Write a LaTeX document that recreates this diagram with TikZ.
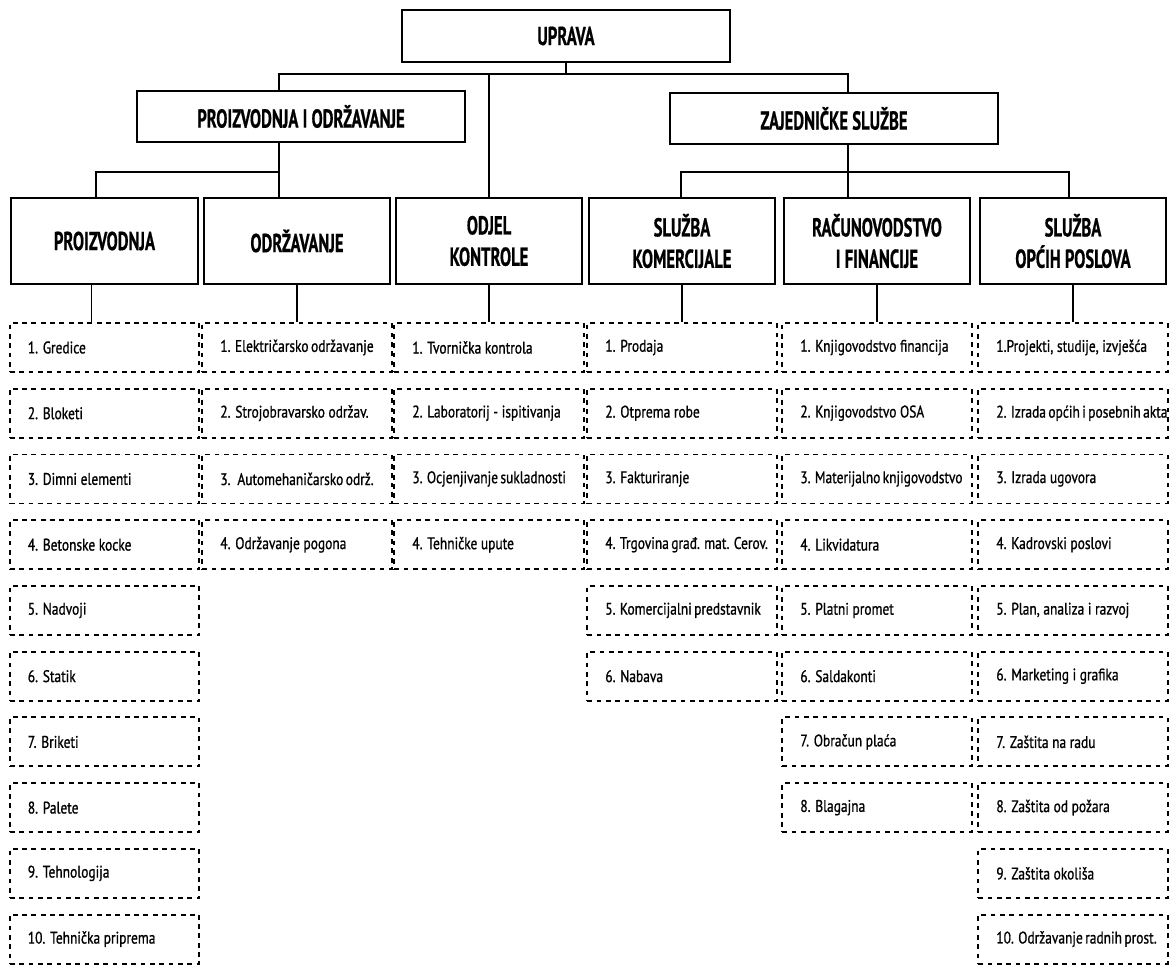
\documentclass[tikz,border=0pt]{standalone}
\usepackage{fontspec}
\setmainfont{PT Sans}
\newfontfamily\headfont{PT Sans}[FakeStretch=0.64, FakeBold=0.6]
\newfontfamily\taskfont{PT Sans}[FakeStretch=0.8, FakeBold=0.9]
\usetikzlibrary{positioning}
\tikzset{%
  % Specifications for style of nodes:
         unit/.style = {rectangle, draw=black, line width=1.4pt,
                        text centered, align=center, inner sep=2pt,
                        font=\headfont\bfseries\fontsize{19.5}{23.5}\selectfont},
      topunit/.style = {unit, minimum width=246pt, minimum height=38.5pt},
      subunit/.style = {unit, minimum width=140pt, minimum height=64.5pt},
      taskbox/.style = {rectangle, draw=black, line width=1.4pt,
                        dash pattern=on 3.6pt off 3.4pt,
                        minimum width=142pt, minimum height=36.75pt,
                        inner xsep=13.5pt,
                        font=\taskfont\fontsize{12.6}{14}\selectfont,
                        execute at begin node={\hbox to 115pt\bgroup},
                        execute at end node={\hfil\egroup}},
}

\begin{document}
\begin{tikzpicture}[x=0.75pt, y=-0.75pt, node distance=49.3pt,
    line width=1.4pt]
\useasboundingbox (0,0) rectangle (1169,967);

\node (UPR)  [topunit] at (566,36)     {UPRAVA};
\node (PIO)  [topunit] at (301,116.5)  {PROIZVODNJA I ODRŽAVANJE};
\node (ZAJ)  [topunit] at (834,118.5)  {ZAJEDNIČKE SLUŽBE};

\node (PRO)  [subunit] at (104.5,241)  {PROIZVODNJA};
\node (ODR)  [subunit] at (297,241)    {ODRŽAVANJE};
\node (ODJ)  [subunit] at (489,241)    {ODJEL\\KONTROLE};
\node (KOM)  [subunit] at (682,241)    {SLUŽBA\\KOMERCIJALE};
\node (RAC)  [subunit] at (877,241)    {RAČUNOVODSTVO\\I FINANCIJE};
\node (OPC)  [subunit] at (1073,241)   {SLUŽBA\\OPĆIH POSLOVA};

% Proizvodnja
\node (P1)   [taskbox] at (104.5,347.5) {1. Gredice};
\node (P2)   [taskbox, below of=P1]     {2. Bloketi};
\node (P3)   [taskbox, below of=P2]     {3. Dimni elementi};
\node (P4)   [taskbox, below of=P3]     {4. Betonske kocke};
\node (P5)   [taskbox, below of=P4]     {5. Nadvoji};
\node (P6)   [taskbox, below of=P5]     {6. Statik};
\node (P7)   [taskbox, below of=P6]     {7. Briketi};
\node (P8)   [taskbox, below of=P7]     {8. Palete};
\node (P9)   [taskbox, below of=P8]     {9. Tehnologija};
\node (P10)  [taskbox, below of=P9]     {10. Tehnička priprema};

% Odrzavanje
\node (O1)   [taskbox] at (297,347.5)   {1. Električarsko održavanje};
\node (O2)   [taskbox, below of=O1]     {2. Strojobravarsko održav.};
\node (O3)   [taskbox, below of=O2]     {3.~ Automehaničarsko održ.};
\node (O4)   [taskbox, below of=O3]     {4. Održavanje pogona};

% Odjel kontrole
\node (K1)   [taskbox] at (489,347.5)   {1. Tvornička kontrola};
\node (K2)   [taskbox, below of=K1]     {2. Laboratorij - ispitivanja};
\node (K3)   [taskbox, below of=K2]     {3. Ocjenjivanje sukladnosti};
\node (K4)   [taskbox, below of=K3]     {4. Tehničke upute};

% Komercijala
\node (S1)   [taskbox] at (682,347.5)   {1. Prodaja};
\node (S2)   [taskbox, below of=S1]     {2. Otprema robe};
\node (S3)   [taskbox, below of=S2]     {3. Fakturiranje};
\node (S4)   [taskbox, below of=S3]     {4. Trgovina građ. mat. Cerov.};
\node (S5)   [taskbox, below of=S4]     {5. Komercijalni predstavnik};
\node (S6)   [taskbox, below of=S5]     {6. Nabava};

% Racunovodstvo
\node (R1)   [taskbox] at (877,347.5)   {1. Knjigovodstvo financija};
\node (R2)   [taskbox, below of=R1]     {2. Knjigovodstvo OSA};
\node (R3)   [taskbox, below of=R2]     {3. Materijalno knjigovodstvo};
\node (R4)   [taskbox, below of=R3]     {4. Likvidatura};
\node (R5)   [taskbox, below of=R4]     {5. Platni promet};
\node (R6)   [taskbox, below of=R5]     {6. Saldakonti};
\node (R7)   [taskbox, below of=R6]     {7. Obračun plaća};
\node (R8)   [taskbox, below of=R7]     {8. Blagajna};

% Opci poslovi
\node (G1)   [taskbox] at (1073,347.5)  {1.Projekti, studije, izvješća};
\node (G2)   [taskbox, below of=G1]     {2. Izrada općih i posebnih akta};
\node (G3)   [taskbox, below of=G2]     {3. Izrada ugovora};
\node (G4)   [taskbox, below of=G3]     {4. Kadrovski poslovi};
\node (G5)   [taskbox, below of=G4]     {5. Plan, analiza i razvoj};
\node (G6)   [taskbox, below of=G5]     {6. Marketing i grafika};
\node (G7)   [taskbox, below of=G6]     {7. Zaštita na radu};
\node (G8)   [taskbox, below of=G7]     {8. Zaštita od požara};
\node (G9)   [taskbox, below of=G8]     {9. Zaštita okoliša};
\node (G10)  [taskbox, below of=G9]     {10. Održavanje radnih prost.};

\coordinate (bl) at (279,74);
\coordinate (br) at (848,74);
\coordinate (pl) at (96,172);
\coordinate (zl) at (681,172);
\coordinate (zr) at (1069,172);

\draw (UPR) -- (UPR |- bl);
\draw (bl |- PIO.north) -- (bl) -- (br) -- (br |- ZAJ.north);
\draw (ODJ) -- (ODJ |- bl);
\draw (pl |- PRO.north) -- (pl) -- (pl -| bl);
\draw (bl |- PIO.south) -- (bl |- ODR.north);
\draw (zl |- KOM.north) -- (zl) -- (zr) -- (zr |- OPC.north);
\draw (br |- ZAJ.south) -- (br |- RAC.north);

\draw ([xshift=-9.75pt]PRO.south) -- ([xshift=-9.75pt]P1.north);
\draw (ODR) -- (O1);
\draw (ODJ) -- (K1);
\draw (KOM) -- (S1);
\draw (RAC) -- (R1);
\draw (OPC) -- (G1);
\end{tikzpicture}
\end{document}
